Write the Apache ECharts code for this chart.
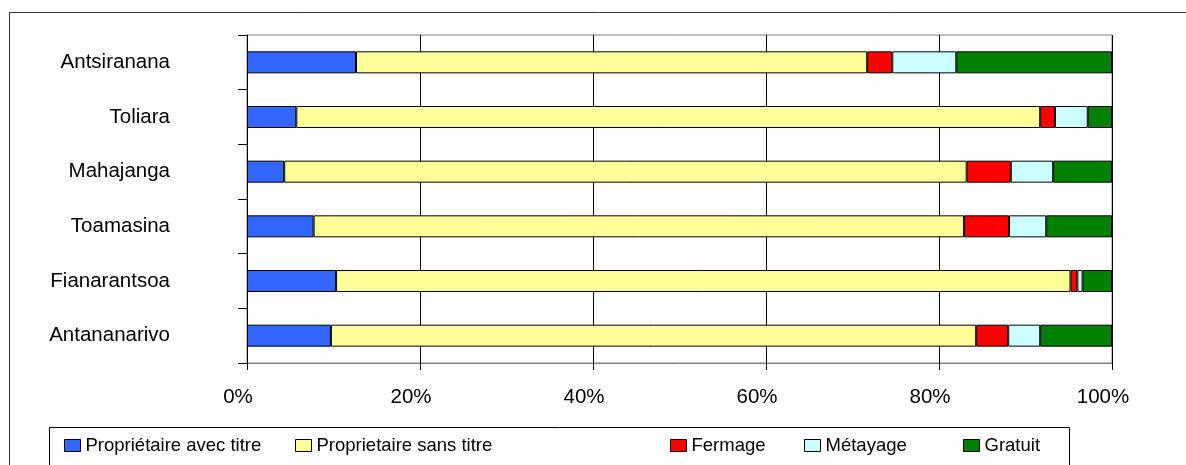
<!DOCTYPE html>
<html>
<head>
<meta charset="utf-8">
<script src="https://cdn.jsdelivr.net/npm/echarts@6/dist/echarts.min.js"></script>
<style>html,body{margin:0;padding:0;background:#fff}#c{width:1186px;height:465px}</style>
</head>
<body>
<div id="c"></div>
<script>
const regions = ['Antsiranana','Toliara','Mahajanga','Toamasina','Fianarantsoa','Antananarivo'];
const seriesNames = ['Propriétaire avec titre','Proprietaire sans titre','Fermage','Métayage','Gratuit'];
const avecTitre = [12.6, 5.7, 4.3, 7.7, 10.3, 9.7];
const sansTitre = [59.1, 86.0, 78.9, 75.2, 84.9, 74.6];
const fermage   = [2.9, 1.7, 5.1, 5.2, 0.8, 3.7];
const metayage  = [7.4, 3.8, 4.9, 4.3, 0.6, 3.7];
const gratuit   = [18.0, 2.8, 6.8, 7.6, 3.4, 8.3];
const xTicks = [0, 20, 40, 60, 80, 100];

const colors = ['#3366FF','#FFFF99','#FF0000','#CCFFFF','#008000'];
const values = [avecTitre, sansTitre, fermage, metayage, gratuit];
const font = 'Liberation Sans, Arial, sans-serif';

const chart = echarts.init(document.getElementById('c'), null, {renderer:'canvas'});
const legendLefts = [59, 290, 665, 799, 958];
chart.setOption({
  animation:false,
  backgroundColor:'#fff',
  grid:{left:247, right:74, top:35, bottom:102, show:true, borderColor:'#808080', borderWidth:1},
  xAxis:{type:'value', min:xTicks[0], max:xTicks[xTicks.length-1], interval:20,
    axisLine:{show:true, lineStyle:{color:'#808080'}},
    axisTick:{show:true, length:7, lineStyle:{color:'#000'}},
    splitLine:{show:true, lineStyle:{color:'#000', width:1}},
    axisLabel:{formatter:v=>v+'%', color:'#000', fontSize:20.5, fontFamily:font, margin:24, padding:[0,18,0,0]}},
  yAxis:{type:'category', data:regions, inverse:true,
    axisLine:{show:true, lineStyle:{color:'#000'}},
    axisTick:{show:true, length:9, lineStyle:{color:'#000'}},
    axisLabel:{color:'#000', fontSize:20.5, fontFamily:font, margin:77}},
  legend: seriesNames.map((n,i)=>({data:[n], left:legendLefts[i], top:431, itemWidth:16, itemHeight:12, itemGap:8,
    textStyle:{color:'#000', fontSize:18.5, fontFamily:font}, icon:'rect',
    itemStyle:{borderColor:'#000', borderWidth:1}})),
  series: seriesNames.map((n,i)=>({name:n, type:'bar', stack:'s', barWidth:22,
    data: values[i],
    itemStyle:{color:colors[i], borderColor:'#000', borderWidth:1}})),
  graphic:[
    {type:'rect', shape:{x:9.5, y:12.5, width:1200, height:480}, style:{fill:'none', stroke:'#333', lineWidth:1}, silent:true, z:-1},
    {type:'rect', shape:{x:49.5, y:427.5, width:1020, height:60}, style:{fill:'none', stroke:'#000', lineWidth:1}, silent:true, z:-1}
  ]
});
</script>
</body>
</html>
